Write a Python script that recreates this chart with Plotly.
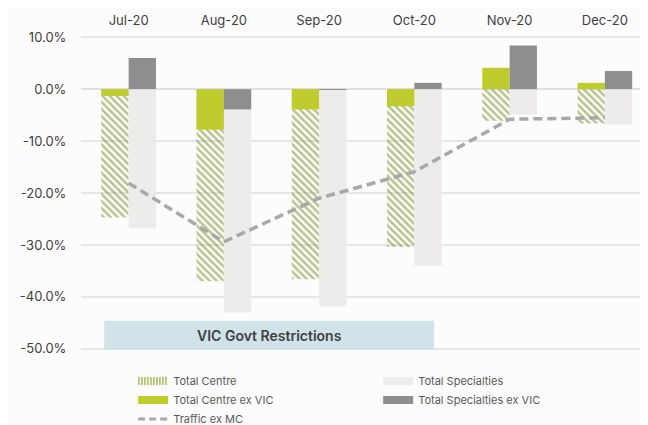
import plotly.graph_objects as go

months = ["Jul-20", "Aug-20", "Sep-20", "Oct-20", "Nov-20", "Dec-20"]
total_centre = [-24.7, -37.0, -36.6, -30.4, -6.1, -6.6]
total_centre_ex_vic = [-1.3, -7.8, -3.9, -3.3, 4.1, 1.2]
total_specialties = [-26.8, -43.0, -41.8, -34.0, -4.9, -6.8]
total_specialties_ex_vic = [6.0, -3.9, -0.1, 1.2, 8.4, 3.5]
traffic_ex_mc = [-18.1, -29.4, -21.0, -15.9, -5.8, -5.5]
y_ticks = [10, 0, -10, -20, -30, -40, -50]
box_label = "VIC Govt Restrictions"

x = list(range(len(months)))
W = 0.287
FONT = "Inter, Roboto, sans-serif"
C_HATCH = "#748a20"
C_CEX = "#bfcc2e"
C_SPEC = "#edeceb"
C_SEX = "#8e8e8f"
C_LINE = "#a8a8a8"

fig = go.Figure()
fig.add_trace(go.Bar(
    x=x, y=total_centre, name="Total Centre", width=W, offset=-W, showlegend=False,
    marker=dict(color="rgba(255,255,255,0)", line=dict(width=0),
                pattern=dict(shape="\\", fgcolor=C_HATCH, bgcolor="rgba(255,255,255,0)",
                             size=5, solidity=0.5))))
fig.add_trace(go.Bar(
    x=x, y=total_specialties, name="Total Specialties", width=W, offset=0, showlegend=False,
    marker=dict(color=C_SPEC, line=dict(width=0))))
fig.add_trace(go.Bar(
    x=x, y=total_centre_ex_vic, name="Total Centre ex VIC", width=W, offset=-W, showlegend=False,
    marker=dict(color=C_CEX, line=dict(width=0))))
fig.add_trace(go.Bar(
    x=x, y=total_specialties_ex_vic, name="Total Specialties ex VIC", width=W, offset=0,
    showlegend=False, marker=dict(color=C_SEX, line=dict(width=0))))
fig.add_trace(go.Scatter(
    x=x, y=traffic_ex_mc, name="Traffic ex MC", mode="lines", showlegend=False,
    line=dict(color=C_LINE, width=3.5, dash="9px,5px")))

# legend swatches (wide rectangles like the original), no data drawn
legend_items = [
    ("Total Centre", dict(color="#a9b95a", width=8, dash="1.5px,1.5px")),
    ("Total Specialties", dict(color=C_SPEC, width=8)),
    ("Total Centre ex VIC", dict(color=C_CEX, width=8)),
    ("Total Specialties ex VIC", dict(color=C_SEX, width=8)),
    ("Traffic ex MC", dict(color=C_LINE, width=3, dash="7px,4px")),
]
for name, ln in legend_items:
    fig.add_trace(go.Scatter(x=[None], y=[None], mode="lines", name=name, line=ln,
                             hoverinfo="skip"))

fig.add_shape(type="rect", xref="x", yref="y", x0=-0.256, x1=3.207, y0=-50.2, y1=-44.6,
              fillcolor="#cfe3e8", line=dict(width=0), layer="above")
fig.add_annotation(x=(-0.256 + 3.207) / 2, y=-47.4, xref="x", yref="y", text=box_label,
                   showarrow=False, font=dict(family=FONT, size=14, color="#404040", weight=600))

xr = [-0.5, 5.453]
fig.update_layout(
    width=648, height=425,
    margin=dict(l=73, r=8, t=23.5, b=78.5, autoexpand=False),
    paper_bgcolor="#fcfcfc", plot_bgcolor="#fcfcfc",
    barmode="overlay",
    font=dict(family=FONT, color="#404040"),
    showlegend=True,
    legend=dict(orientation="h", x=0.092, xanchor="left", y=-0.0386, yanchor="top",
                entrywidth=200, entrywidthmode="pixels", traceorder="normal",
                font=dict(family=FONT, size=11, color="#595959"),
                bgcolor="rgba(0,0,0,0)", tracegroupgap=0),
    xaxis=dict(range=xr, tickvals=x, ticktext=months, side="top", showgrid=False,
               zeroline=False, showline=False, ticks="outside", ticklen=1,
               tickcolor="rgba(0,0,0,0)", automargin=False,
               tickfont=dict(size=13, color="#404040")),
    xaxis2=dict(range=xr, overlaying="x", anchor="free", position=51 / 62, side="bottom",
                tickvals=[i - 0.5 for i in range(len(months))], ticks="outside", ticklen=5,
                tickcolor="#dcdcdc", tickwidth=1, showticklabels=False, showgrid=False,
                zeroline=False, showline=False),
    yaxis=dict(range=[-51, 11], tickvals=y_ticks, ticktext=[f"{v:.1f}%" for v in y_ticks],
               showgrid=True, gridcolor="#e6e6e6", gridwidth=1.5, zeroline=True,
               zerolinecolor="#e0e0e0", zerolinewidth=1.5, automargin=False,
               ticks="outside", ticklen=11, tickcolor="rgba(0,0,0,0)",
               tickfont=dict(size=13, color="#404040")),
)

fig.write_html("out.html")
